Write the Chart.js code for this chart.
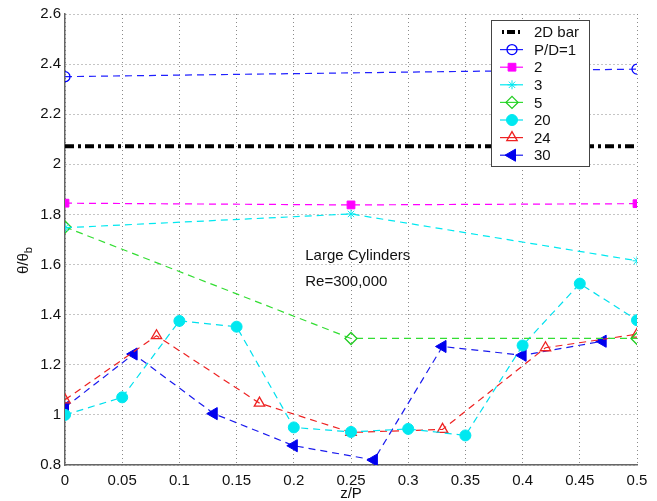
<!DOCTYPE html>
<html>
<head>
<meta charset="utf-8">
<script src="https://cdn.jsdelivr.net/npm/chart.js@4/dist/chart.umd.min.js"></script>
<style>
html,body{margin:0;padding:0;background:#fff;}
#wrap{width:657px;height:501px;position:relative;}
</style>
</head>
<body>
<div id="wrap"><canvas id="c" width="657" height="501"></canvas></div>
<script>
// ---- data ----
const xTicks = [0, 0.05, 0.1, 0.15, 0.2, 0.25, 0.3, 0.35, 0.4, 0.45, 0.5];
const yTicks = [0.8, 1, 1.2, 1.4, 1.6, 1.8, 2, 2.2, 2.4, 2.6];
const seriesNames = ['2D bar', 'P/D=1', '2', '3', '5', '20', '24', '30'];

const bar2D_x = [0, 0.5];
const bar2D_y = [2.072, 2.072];

const pd1_x = [0, 0.5];
const pd1_y = [2.35, 2.38];

const pd2_x = [0, 0.25, 0.5];
const pd2_y = [1.845, 1.838, 1.843];

const pd3_x = [0, 0.25, 0.5];
const pd3_y = [1.747, 1.802, 1.615];

const pd5_x = [0, 0.25, 0.5];
const pd5_y = [1.75, 1.305, 1.305];

const pd20_x = [0, 0.05, 0.1, 0.15, 0.2, 0.25, 0.3, 0.35, 0.4, 0.45, 0.5];
const pd20_y = [1.0, 1.07, 1.375, 1.352, 0.95, 0.932, 0.944, 0.918, 1.277, 1.524, 1.378];

const pd24_x = [0, 0.08, 0.17, 0.25, 0.33, 0.42, 0.5];
const pd24_y = [1.06, 1.316, 1.047, 0.93, 0.942, 1.268, 1.322];

const pd30_x = [0, 0.06, 0.13, 0.2, 0.27, 0.33, 0.4, 0.47];
const pd30_y = [1.03, 1.243, 1.005, 0.877, 0.82, 1.273, 1.238, 1.294];

const annotation = ['Large Cylinders', 'Re=300,000'];
const xTitle = 'z/P';

// ---- build ----
const pts = (xs, ys) => xs.map((x, i) => ({x: x, y: ys[i]}));
const FONT = '"Liberation Sans", Arial, Helvetica, sans-serif';
const dash = [7, 5];

const datasets = [
  {label: seriesNames[0], data: pts(bar2D_x, bar2D_y), borderColor: '#000', borderWidth: 4,
   borderDash: [9, 4, 3, 4], pointRadius: 0, pointStyle: false, backgroundColor: '#000'},
  {label: seriesNames[1], data: pts(pd1_x, pd1_y), borderColor: '#2020ff', borderWidth: 1.2, borderDash: dash,
   pointStyle: 'circle', pointRadius: 5, pointBorderColor: '#0000ff', pointBackgroundColor: 'rgba(0,0,0,0)', pointBorderWidth: 1.3},
  {label: seriesNames[2], data: pts(pd2_x, pd2_y), borderColor: '#ff00ff', borderWidth: 1.2, borderDash: dash,
   pointStyle: 'rect', pointRadius: 5.5, pointBorderColor: '#ff00ff', pointBackgroundColor: '#ff00ff', pointBorderWidth: 1},
  {label: seriesNames[3], data: pts(pd3_x, pd3_y), borderColor: '#00e8f0', borderWidth: 1.2, borderDash: dash,
   pointStyle: 'star', pointRadius: 4.5, pointBorderColor: '#00e8f0', pointBackgroundColor: '#00e8f0', pointBorderWidth: 1},
  {label: seriesNames[4], data: pts(pd5_x, pd5_y), borderColor: '#33dd33', borderWidth: 1.2, borderDash: dash,
   pointStyle: 'rectRot', pointRadius: 6, pointBorderColor: '#22cc22', pointBackgroundColor: 'rgba(0,0,0,0)', pointBorderWidth: 1.3},
  {label: seriesNames[5], data: pts(pd20_x, pd20_y), borderColor: '#00e0ee', borderWidth: 1.2, borderDash: dash,
   pointStyle: 'circle', pointRadius: 5.5, pointBorderColor: '#00e8f0', pointBackgroundColor: '#00e8f0', pointBorderWidth: 1},
  {label: seriesNames[6], data: pts(pd24_x, pd24_y), borderColor: '#ee2222', borderWidth: 1.2, borderDash: dash,
   pointStyle: 'triangle', pointRadius: 6, pointBorderColor: '#ee2222', pointBackgroundColor: 'rgba(0,0,0,0)', pointBorderWidth: 1.3},
  {label: seriesNames[7], data: pts(pd30_x, pd30_y), borderColor: '#1a1aee', borderWidth: 1.2, borderDash: dash,
   pointStyle: 'triangle', rotation: -90, pointRotation: -90, pointRadius: 7, pointBorderColor: '#0000ee', pointBackgroundColor: '#0000ee', pointBorderWidth: 1}
];

const legendPlugin = {
  id: 'boxLegend',
  afterDatasetsDraw(chart) {
    const ctx = chart.ctx;
    const bx = 491, by = 20, bw = 98, bh = 146, rowH = 17.6;
    ctx.save();
    ctx.fillStyle = '#fff';
    ctx.fillRect(bx, by, bw, bh);
    ctx.strokeStyle = '#444';
    ctx.lineWidth = 1;
    ctx.strokeRect(bx + 0.5, by + 0.5, bw, bh);
    chart.data.datasets.forEach((ds, i) => {
      const y = by + 12 + i * rowH;
      ctx.save();
      ctx.strokeStyle = ds.borderColor;
      ctx.lineWidth = ds.borderWidth;
      if (i === 0) ctx.setLineDash([2, 3, 8, 3]); else ctx.setLineDash([]);
      ctx.beginPath();
      ctx.moveTo(i === 0 ? 502 : 500, y);
      ctx.lineTo(523, y);
      ctx.stroke();
      ctx.restore();
      if (ds.pointStyle && ds.pointRadius > 0) {
        ctx.save();
        ctx.setLineDash([]);
        ctx.fillStyle = ds.pointBackgroundColor;
        ctx.strokeStyle = ds.pointBorderColor;
        ctx.lineWidth = ds.pointBorderWidth;
        Chart.helpers.drawPoint(ctx, {pointStyle: ds.pointStyle, radius: ds.pointRadius,
          rotation: ds.pointRotation || 0, borderWidth: ds.pointBorderWidth}, 512, y);
        ctx.restore();
      }
      ctx.fillStyle = '#111';
      ctx.font = '15px ' + FONT;
      ctx.textBaseline = 'middle';
      ctx.textAlign = 'left';
      ctx.fillText(ds.label, 534, y + 1);
    });
    ctx.restore();
  }
};

const textPlugin = {
  id: 'extraText',
  afterDraw(chart) {
    const ctx = chart.ctx;
    const xs = chart.scales.x, ys = chart.scales.y;
    ctx.save();
    ctx.fillStyle = '#111';
    ctx.font = '15px ' + FONT;
    ctx.textBaseline = 'alphabetic';
    ctx.textAlign = 'left';
    ctx.fillText(annotation[0], xs.getPixelForValue(0.21), ys.getPixelForValue(1.62));
    ctx.fillText(annotation[1], xs.getPixelForValue(0.21), ys.getPixelForValue(1.516));
    // x-axis title
    ctx.textAlign = 'center';
    ctx.textBaseline = 'middle';
    ctx.fillText(xTitle, (chart.chartArea.left + chart.chartArea.right) / 2, 494);
    // y-axis title theta/theta_b
    ctx.textAlign = 'left';
    ctx.textBaseline = 'alphabetic';
    ctx.translate(28, 274);
    ctx.rotate(-Math.PI / 2);
    ctx.font = '15px ' + FONT;
    ctx.fillText('θ/θ', 0, 0);
    const w = ctx.measureText('θ/θ').width;
    ctx.font = '11px ' + FONT;
    ctx.fillText('b', w, 4);
    ctx.restore();
  }
};

new Chart(document.getElementById('c'), {
  type: 'line',
  data: {datasets: datasets},
  plugins: [legendPlugin, textPlugin],
  options: {
    responsive: false,
    animation: false,
    events: [],
    layout: {padding: {top: 14, right: 20, left: 0, bottom: 0}},
    plugins: {legend: {display: false}, tooltip: {enabled: false}},
    scales: {
      x: {
        type: 'linear', min: 0, max: 0.5,
        afterBuildTicks(s) { s.ticks = xTicks.map(v => ({value: v})); },
        afterFit(s) { s.height = 36; },
        ticks: {color: '#111', font: {size: 15, family: FONT}, padding: 7,
          callback: v => String(v)},
        grid: {color: '#8a8a8a', lineWidth: 1, drawTicks: false},
        border: {display: true, color: '#666', width: 1.5, dash: [1, 3]},
        title: {display: false}
      },
      y: {
        type: 'linear', min: 0.8, max: 2.6,
        afterBuildTicks(s) { s.ticks = yTicks.map(v => ({value: v})); },
        afterFit(s) { s.width = 65; },
        ticks: {color: '#111', font: {size: 15, family: FONT}, padding: 4,
          callback: v => String(v)},
        grid: {color: '#8a8a8a', lineWidth: 1, drawTicks: false},
        border: {display: true, color: '#666', width: 1.5, dash: [1, 3]}
      }
    }
  }
});
</script>
</body>
</html>
